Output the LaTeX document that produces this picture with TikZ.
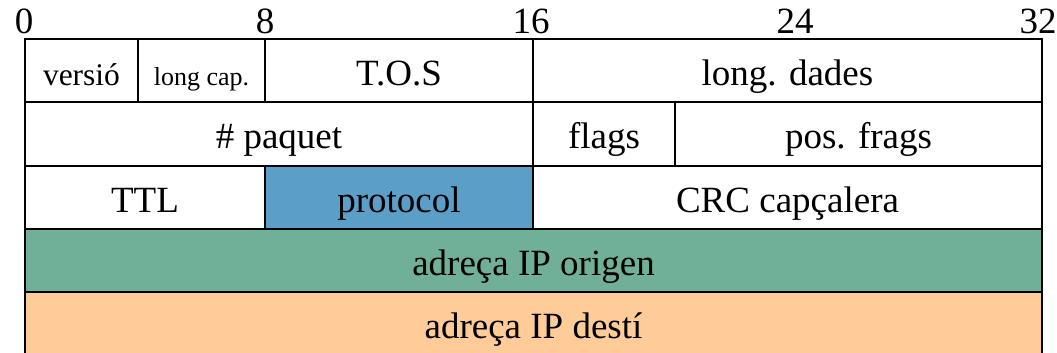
\documentclass[tikz,border=0pt]{standalone}
\usepackage{fontspec}
\setmainfont{Liberation Serif}
\definecolor{protoblue}{HTML}{5B9FC8}
\definecolor{srcgreen}{HTML}{70B098}
\definecolor{dstpeach}{HTML}{FFCC99}
\tikzset{
  x=1pt, y=-1pt,
  field/.style={draw=black, line width=2.6pt, inner sep=0pt, outer sep=0pt,
    text height=29pt, text depth=0pt,
    font=\fontsize{37}{40}\selectfont},
  bitmark/.style={anchor=base, inner sep=0pt, font=\fontsize{37}{40}\selectfont}
}
\begin{document}
\begin{tikzpicture}
\useasboundingbox (0,0) rectangle (1057,353);
\clip (0,0) rectangle (1057,353);

% bit ruler
\node[bitmark] (b0)  at (24,34)   {0};
\node[bitmark] (b8)  at (265,34)  {8};
\node[bitmark] (b16) at (531,34)  {16};
\node[bitmark] (b24) at (795,34)  {24};
\node[bitmark] (b32) at (1038,34) {32};

% row 1
\node[field, minimum width=113pt, minimum height=63pt, font=\fontsize{31.5}{34}\selectfont] (ver) at (81.5,70.5) {versió};
\node[field, minimum width=127pt, minimum height=63pt, font=\fontsize{26}{28}\selectfont] (hlen) at (201.5,70.5) {long cap.};
\node[field, minimum width=268pt, minimum height=63pt] (tos) at (399,70.5) {T.O.S};
\node[field, minimum width=509pt, minimum height=63pt] (len) at (787.5,70.5) {long. dades};

% row 2
\node[field, minimum width=508pt, minimum height=64pt] (id) at (279,134) {\# paquet};
\node[field, minimum width=142pt, minimum height=64pt] (flg) at (604,134) {flags};
\node[field, minimum width=367pt, minimum height=64pt] (frag) at (858.5,134) {pos. frags};

% row 3
\node[field, minimum width=240pt, minimum height=63pt] (ttl) at (145,197.5) {TTL};
\node[field, fill=protoblue, minimum width=268pt, minimum height=63pt] (proto) at (399,197.5) {protocol};
\node[field, minimum width=509pt, minimum height=63pt] (crc) at (787.5,197.5) {CRC capçalera};

% rows 4 and 5
\node[field, fill=srcgreen, minimum width=1017pt, minimum height=63pt] (src) at (533.5,260.5) {adreça IP origen};
\node[field, fill=dstpeach, minimum width=1017pt, minimum height=63pt] (dst) at (533.5,323.5) {adreça IP destí};
\end{tikzpicture}
\end{document}
